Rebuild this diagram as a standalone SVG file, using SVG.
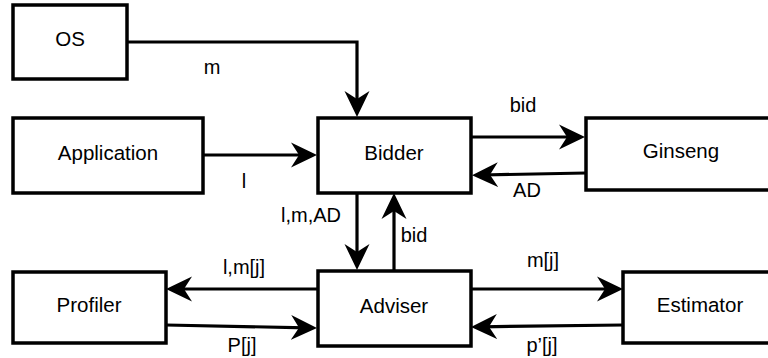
<svg xmlns="http://www.w3.org/2000/svg" width="768" height="358" viewBox="0 0 768 358">
  <style>
    .box { fill: #ffffff; stroke: #000000; stroke-width: 3.5; }
    .name { font-family: "Liberation Sans", Arial, sans-serif; font-size: 20.5px; fill: #000000; text-anchor: middle; }
    .lbl { font-family: "Liberation Sans", Arial, sans-serif; font-size: 20px; fill: #000000; text-anchor: middle; }
    .edge { fill: none; stroke: #000000; stroke-width: 3.2; marker-end: url(#head); }
  </style>
  <defs>
    <!-- notched arrowhead; tip sits 10px past the end of the line -->
    <marker id="head" markerUnits="userSpaceOnUse" viewBox="0 -14 28 28" markerWidth="28" markerHeight="28" refX="16" refY="0" orient="auto">
      <path d="M26,0 L0,-12.5 L8,0 L0,12.5 Z" fill="#000000"/>
    </marker>
  </defs>

  <rect width="768" height="358" fill="#ffffff"/>

  <g id="os">
    <rect class="box" x="13" y="5" width="114" height="74"/>
    <text class="name" x="70" y="46">OS</text>
  </g>
  <g id="application">
    <rect class="box" x="13" y="118" width="190" height="75"/>
    <text class="name" x="108" y="160">Application</text>
  </g>
  <g id="bidder">
    <rect class="box" x="318" y="118" width="153" height="75"/>
    <text class="name" x="394" y="160">Bidder</text>
  </g>
  <g id="ginseng">
    <rect class="box" x="586" y="118" width="190" height="72"/>
    <text class="name" x="681" y="158">Ginseng</text>
  </g>
  <g id="profiler">
    <rect class="box" x="13" y="272" width="153" height="71"/>
    <text class="name" x="89" y="312">Profiler</text>
  </g>
  <g id="adviser">
    <rect class="box" x="318" y="271" width="153" height="75"/>
    <text class="name" x="394" y="313">Adviser</text>
  </g>
  <g id="estimator">
    <rect class="box" x="623" y="272" width="154" height="71"/>
    <text class="name" x="700" y="312">Estimator</text>
  </g>

  <g id="connectors">
    <path class="edge" d="M127,42 H357 V107"/>
    <path class="edge" d="M203,155 H307"/>
    <path class="edge" d="M471,137 H575"/>
    <path class="edge" d="M586,173 L482,175"/>
    <path class="edge" d="M357,193 V260"/>
    <path class="edge" d="M394,271 V203"/>
    <path class="edge" d="M318,289 H176"/>
    <path class="edge" d="M166,325 L307,327.8"/>
    <path class="edge" d="M471,289 H613"/>
    <path class="edge" d="M623,325 L481,326.8"/>

    <text class="lbl" x="212" y="74">m</text>
    <text class="lbl" x="244" y="188">l</text>
    <text class="lbl" x="523" y="112">bid</text>
    <text class="lbl" x="527" y="197">AD</text>
    <text class="lbl" x="311" y="222">l,m,AD</text>
    <text class="lbl" x="414" y="242">bid</text>
    <text class="lbl" x="244" y="274">l,m[j]</text>
    <text class="lbl" x="242" y="352">P[j]</text>
    <text class="lbl" x="543" y="267">m[j]</text>
    <text class="lbl" x="542" y="352">p’[j]</text>
  </g>
</svg>
